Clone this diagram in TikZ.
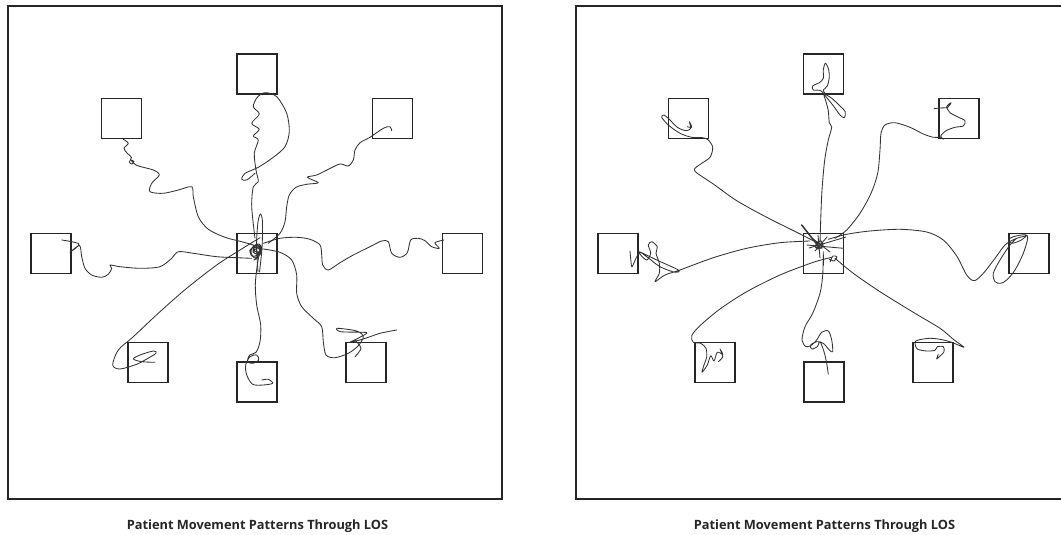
\documentclass[tikz,border=0pt]{standalone}
\usepackage{fontspec}
\setmainfont{Open Sans}
\tikzset{
  frame/.style={draw=black!85, line width=1.8pt},
  room/.style={draw=black!85, line width=1.6pt, minimum size=40pt, inner sep=0pt},
  track/.style={draw=black!80, line width=0.85pt, line join=round, line cap=round},
  caption/.style={font=\fontsize{12.8}{15}\selectfont\bfseries, text=black!85, inner sep=0pt, anchor=base}
}

\begin{document}
\begin{tikzpicture}[x=1pt,y=-1pt]
                \clip (0,0) rectangle (1061,535);
                % the two floors
                \draw[frame] (8.3,5.7) rectangle (502.3,499.3);
                \draw[frame] (575.7,5.7) rectangle (1080,499.3);
                % rooms, left floor
                \node[room] (aC) at (256.7,253.5) {};
                \node[room] (aN) at (256.7,73.8) {};
                \node[room] (aNW) at (121.5,118.5) {};
                \node[room] (aNE) at (392.5,118.5) {};
                \node[room] (aW) at (50.8,253.5) {};
                \node[room] (aE) at (462.5,253.5) {};
                \node[room] (aSW) at (148.2,362.5) {};
                \node[room] (aS) at (256.7,381.8) {};
                \node[room] (aSE) at (365.8,362.5) {};
                % rooms, right floor
                \node[room] (bC) at (823.6,253.6) {};
                \node[room] (bN) at (823.5,73.8) {};
                \node[room] (bNW) at (688.5,118.5) {};
                \node[room] (bNE) at (959.2,118.5) {};
                \node[room] (bW) at (618.2,253.5) {};
                \node[room] (bE) at (1029.2,253.5) {};
                \node[room] (bSW) at (714.8,362.5) {};
                \node[room] (bS) at (823.8,381.8) {};
                \node[room] (bSE) at (932.8,362.5) {};
                % tracks, left floor
                \draw[track] plot[smooth] coordinates {(123.3,139.3) (128.3,143.3) (124,148.3) (127.3,153.3) (131.5,157.5) (129.3,162) (132,164) (134,161.5) (131,160) (137,165.5) (153.3,170) (159.3,175) (151.7,183.3) (150,191.7) (163.3,193.3) (178.3,190) (191.7,186.7) (193.3,196.7) (198.3,216.7) (208.3,229.3) (225,237.3) (241.7,241.7) (253.3,245)};
                \draw[track] plot[smooth] coordinates {(255,238.3) (251.7,206.7) (253.3,186.7) (258.3,181.7) (256,170) (254.3,153.3) (258.3,140) (253.3,136) (259.3,129.3) (251.7,123.3) (259.3,114) (253.3,106.7) (257.3,97.3) (265,92.7) (276.7,96.7) (286.7,113.3) (289.3,131.7) (285,146.7) (273.3,157.3) (258.3,167.3) (245,173.3) (241.7,179.3) (246.7,180) (255,173.3)};
                \draw[track] plot[smooth] coordinates {(391.7,130.7) (390,126.7) (383.3,128.3) (370,137.3) (360,142.7) (355,150) (353.3,160) (348.3,166) (340,164) (328.3,169.3) (316.7,175) (307.3,177.3) (318.3,182.7) (306.7,184.3) (296,187.3) (289.3,195) (286.7,206.7) (285,221.7) (280,233.3) (268.3,243.3)};
                \draw[track] plot[smooth] coordinates {(444,240) (435,242.7) (439.3,248.3) (431.7,246.7) (425,240.7) (418.3,238.3) (410.7,240) (407.3,252.7) (400,257.3) (391.7,253.3) (388.3,241.7) (381.7,241) (370,246.7) (353.3,255) (340,262.7) (328.3,270) (322.7,265) (321.7,255) (320,245) (310,239.3) (296.7,237.3) (280,238.3) (263.3,243.3)};
                \draw[track] plot[smooth] coordinates {(61.7,240) (79,244) (70,252.3) (79.5,245.5) (81.7,256.7) (85,268.3) (91.7,275) (101.7,277.3) (108.3,274.3) (111.7,268.3) (110,265) (120,266.7) (140,268.3) (160,266.7) (171.7,258.3) (178.3,251.7) (193.3,253.3) (216.7,256.7) (236.7,257.7) (251.7,258.3)};
                \draw[track] plot[smooth] coordinates {(260,237.7) (240,250) (216.7,265) (186.7,288.3) (160,311.7) (133.3,336.7) (118.3,350) (112.7,365) (120,369) (136.7,364.3) (145,360) (156,353.3) (153.3,351) (140,355) (133.3,359) (141.7,361.7) (155,362.3)};
                \draw[track] plot[smooth] coordinates {(260.7,246.7) (257.3,265) (255.3,285) (256.7,305) (260.7,325) (260,341.7) (256,352.3) (249.3,355.3) (247.7,361.7) (252.7,363.3) (258.7,360) (256.7,355) (250,356.7) (245.7,365) (246.7,375) (252.7,384.3) (263.3,385) (272.7,383.3) (268.3,379.3) (261.7,380)};
                \draw[track] plot[smooth] coordinates {(263.3,249) (280,252.3) (291.7,260) (296.7,275) (296.7,293.3) (301.7,306.7) (313.3,318.3) (321.7,326.7) (323.3,341.7) (326,355) (335,357.7) (348.3,353.3) (358.3,345.7) (363.3,336.7) (356.7,331) (337.3,328.3) (340.7,331.7) (363.3,332.3) (366.7,333.3) (356.7,339) (350,342.3) (363.3,339) (380,333.3) (396.7,330)};
                \draw[track] plot[smooth] coordinates {(355,340) (361,348.3) (355,356.7)};
                % knot in the middle room
                \draw[track, line width=1pt] plot[smooth] coordinates {(253,246) (259,244) (262,249) (258,255) (252,256) (250,250) (255,247) (260,250) (257,254) (253,252) (254,248) (259,247) (261,253) (255,258) (251,253) (252,248) (257,245) (261,248) (259,252) (254,251) (256,249) (258,257) (254,260)};
                \draw[track] plot[smooth] coordinates {(258,272) (256.5,245) (258,222) (260.5,214) (262.5,222) (262,248) (259.5,272)};
                % tracks, right floor
                \draw[track] plot[smooth] coordinates {(687.3,126.7) (691.7,127.3) (689.3,121.7) (690.7,128.3) (686,130.7) (677.3,127.3) (669.3,119.3) (664,115) (661.7,117.3) (668.3,125) (680,133.3) (691.7,137.3) (702.7,137.7) (708.3,140) (712.7,147.3) (710,157.3) (700.7,164) (694.3,169.3) (698.3,174) (713.3,184) (736.7,200.7) (766.7,217.3) (796.7,232.3) (818.3,243.3)};
                \draw[track] plot[smooth] coordinates {(820,243.3) (820.7,220) (822,190) (824.7,160) (828.3,140) (831.7,127.3) (829.3,122.7) (828.3,110.7) (826,101.7) (824,94) (831.7,98.3) (840,106) (845.3,111.7) (844.3,117.7) (840,115) (834,106.7) (827.3,98.3) (820.7,90.7) (813.3,90) (812.7,86) (819.3,82.7) (823.3,78.3) (823.3,70) (825.3,63.3) (828.3,68.3) (829.3,76.7) (827.3,86) (823.3,90) (825,93.3)};
                \draw[track] plot[smooth] coordinates {(934,108.7) (940,108) (947.7,107.3) (951,102.7) (946.7,106.7) (950,112.7) (957.3,116.7) (965,120.7) (963.3,126) (955,127.3) (946,130.7) (940.7,136) (943.3,139.3) (940.7,137.3) (933.3,137.3) (923.3,134) (910,127.3) (895,122.7) (885,125) (881,133.3) (880,150) (877.7,173.3) (871,193.3) (860,213.3) (846.7,230) (835,238.3)};
                \draw[track] plot[smooth] coordinates {(828.3,239.3) (846.7,234.3) (870,231) (900,229.3) (926.7,232) (943.3,240) (956.7,256) (966.7,275) (974.3,280.7) (983.3,273.3) (995,258.3) (1005,245) (1015,239) (1026,236) (1020,240.7) (1011.7,243.3) (1008.3,240) (1013.3,236.7) (1025,234.7) (1027.7,238.3) (1023.3,253.3) (1015,270) (1006.7,280) (1000.7,283.3) (995,281.7) (993.3,273.3) (1000,260) (1010,245) (1016.7,238.3)};
                \draw[track] plot[smooth] coordinates {(810,241) (780,242.7) (746.7,248.3) (713.3,257.7) (680,270) (665,275) (655,281.7) (659.3,273.3) (659.3,263.3) (656,253.3) (657.3,246.7) (651.7,241.7) (648.3,245) (650.7,253.3) (646.7,260) (640.7,255) (639.3,251.7) (656.7,260) (678.3,270) (675,272.3) (660,266.7) (646.7,256.7) (639.3,252.7) (633,265) (631.5,266) (630,251)};
                \draw[track] plot[smooth] coordinates {(831.7,257.3) (813.3,262.3) (780,275) (746.7,291.7) (720,309) (700,325.7) (691.7,335.7) (693.3,342.3) (700.7,343.3) (706,348.3) (706.7,356.7) (704,365) (702,372.3) (707.3,365) (710.7,355.7) (714,361) (717.3,352.3) (722.7,354.3) (720,349) (722.7,356.7) (718.3,361.7)};
                \draw[track] plot[smooth] coordinates {(823.3,251.7) (822.7,275) (820,293.3) (812.7,313.3) (805,326.7) (802,340) (806,346.7) (811.7,345) (816.7,340) (821.7,332.3) (828.3,331) (831.7,340) (832.7,351.7) (829.3,350) (823.3,343.3) (816.7,341.7) (810.7,345) (811.7,349) (817.3,346.7) (820,341.7) (824,351.7) (826.7,363.3) (828.3,374.3)};
                \draw[track] plot[smooth] coordinates {(835,258.3) (853.3,273.3) (880,291.7) (913.3,312.3) (940,328.3) (953.3,339.3) (964,347.3) (951.7,342.3) (940,339.3) (929.3,338.3) (918.3,340) (915,342.3) (917.3,349) (926.7,351) (935,350.3) (937.3,346.7) (943.3,346.7) (944,351.7) (939.3,356.7) (936.7,359) (938.3,354.3)};
                % knot in the middle room
                \draw[track, line width=1.5pt] (801.7,225) -- (819,247);
                \draw[track, line width=1.3pt] (823.3,255) -- (823.3,265);
                \draw[track] (806.7,245) -- (843.3,248.3);
                \draw[track] (812,238) -- (830,252);
                \draw[track] (815,251) -- (827,237);
                \draw[track] (818,235) -- (820,258);
                \draw[track] (809,248) -- (846,237);
                \draw[track] plot[smooth] coordinates {(830,262) (833,256) (837,257) (834,261) (829,259)};
                \draw[track, line width=1.1pt] plot[smooth] coordinates {(816,243) (821,241) (823,246) (818,249) (815,246) (819,243) (822,248) (817,247)};
                % captions
                \node[caption] (capA) at (257.5,529.3) {Patient Movement Patterns Through LOS};
                \node[caption] (capB) at (824.5,529.3) {Patient Movement Patterns Through LOS};
            \end{tikzpicture}
\end{document}
